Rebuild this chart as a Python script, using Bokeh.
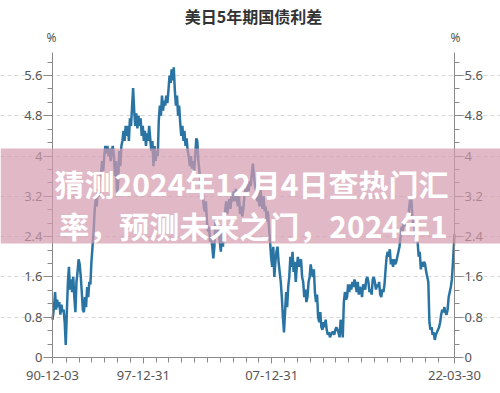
import pandas as pd
from bokeh.plotting import figure
from bokeh.models import (LinearAxis, FixedTicker, DatetimeTickFormatter, Range1d, Label,
                          BoxAnnotation, ColumnDataSource, CustomJSTickFormatter)
from bokeh.embed import file_html
from bokeh.resources import INLINE

# ---------------- data ----------------
title_text = "美日5年期国债利差"
unit_text = "%"
overlay_lines = ["猜测2024年12月4日查热门汇", "率，预测未来之门，2024年1"]
start_date = "1990-12-03"
end_date = "2022-03-30"
x_label_dates = ["1990-12-03", "1997-12-31", "2007-12-31", "2022-03-30"]
y_ticks = [0, 0.8, 1.6, 2.4, 3.2, 4, 4.8, 5.6]
y_axis_top = 6.056

# monthly readings (%), 1990-12 .. 1999-12
spread_1990s = [0.75,
    1.0, 1.3, 0.95, 1.15, 1.0, 1.1, 0.85, 1.05, 0.9, 0.95, 0.7, 0.25,
    0.9, 1.5, 1.8, 1.35, 1.55, 1.3, 1.6, 1.2, 0.9, 1.5, 1.7, 1.95,
    1.85, 1.6, 1.3, 0.95, 0.9, 1.2, 1.0, 1.4, 1.2, 1.5, 1.45, 1.9,
    2.2, 2.5, 2.9, 3.15, 3.0, 3.35, 3.2, 3.5, 3.65, 3.9, 3.7, 4.0,
    4.2, 4.05, 4.2, 4.0, 4.15, 3.9, 4.1, 4.2, 4.0, 3.6, 3.9, 3.2,
    3.5, 4.1, 3.8, 4.2, 4.3, 4.5, 4.3, 4.6, 4.4, 4.6, 4.3, 4.75,
    4.6, 5.0, 5.35, 4.9, 4.6, 4.85, 4.55, 4.8, 4.6, 4.75, 4.4, 4.6,
    4.3, 4.5, 4.2, 4.45, 4.3, 4.6, 4.35, 4.1, 4.3, 3.8, 4.2, 3.9,
    4.1, 4.0, 4.7, 5.0, 4.8, 5.2, 4.9, 5.1, 5.0, 5.2, 5.05, 5.3]
# 2000-01 .. 2009-12
spread_2000s = [
    5.6, 5.45, 5.72, 5.5, 5.76, 5.3, 5.0, 5.2, 4.8, 5.0, 4.65, 4.4,
    4.6, 4.3, 4.5, 4.2, 4.35, 4.1, 4.0, 3.8, 4.0, 3.75, 3.9, 3.7,
    4.0, 4.35, 4.3, 3.9, 3.7, 3.5, 3.2, 3.35, 3.0, 2.9, 3.1, 2.7,
    2.5, 2.6, 2.3, 2.4, 2.2, 1.97, 2.2, 2.8, 2.4, 2.7, 2.5, 2.3,
    2.1, 2.5, 2.2, 2.6, 2.9, 3.1, 2.85, 3.0, 3.15, 2.95, 3.2, 3.1,
    3.3, 3.1, 3.35, 3.15, 3.0, 3.2, 2.85, 3.0, 2.8, 2.95, 3.2, 3.35,
    3.25, 3.45, 3.3, 3.5, 3.4, 3.65, 3.85, 3.6, 3.4, 3.3, 3.1, 3.3,
    3.0, 3.35, 3.1, 2.95, 3.2, 2.9, 3.0, 2.7, 2.9, 2.6, 2.3, 2.0,
    1.8, 2.2, 1.6, 1.9, 2.1, 2.2, 1.9, 1.7, 1.5, 1.2, 0.8, 0.5,
    0.9, 1.3, 1.0, 1.4, 1.6, 2.0, 1.8, 2.1, 1.7, 1.9, 1.5, 1.8]
# 2010-01 .. 2019-12
spread_2010s = [
    2.0, 1.8, 1.9, 1.95, 1.6, 1.5, 1.2, 1.35, 1.1, 1.2, 1.5, 1.6,
    1.85, 1.7, 1.6, 1.75, 1.3, 1.1, 1.25, 0.8, 0.7, 0.9, 0.6, 0.55,
    0.7, 0.6, 0.75, 0.55, 0.45, 0.5, 0.4, 0.45, 0.5, 0.5, 0.45, 0.55,
    0.6, 0.55, 0.5, 0.4, 0.75, 0.6, 0.4, 1.1, 1.3, 1.15, 1.2, 1.45,
    1.3, 1.45, 1.35, 1.5, 1.4, 1.55, 1.45, 1.3, 1.5, 1.25, 1.4, 1.35,
    1.2, 1.45, 1.4, 1.35, 1.55, 1.6, 1.5, 1.3, 1.35, 1.25, 1.55, 1.6,
    1.5, 1.35, 1.45, 1.4, 1.5, 1.25, 1.2, 1.35, 1.3, 1.45, 1.75, 2.0,
    2.1, 2.0, 2.15, 1.85, 1.95, 1.8, 1.95, 1.85, 1.9, 2.0, 2.1, 2.2,
    2.4, 2.6, 2.5, 2.7, 2.6, 2.75, 2.8, 2.75, 2.95, 3.15, 3.2, 2.8,
    2.65, 2.6, 2.4, 2.5, 2.3, 2.0, 2.1, 1.75, 1.9, 1.8, 1.9, 1.85]
# 2020-01 .. 2022-03
spread_2020s = [
    1.7, 1.6, 1.5, 0.7, 0.55, 0.6, 0.45, 0.5, 0.35, 0.45, 0.5, 0.55,
    0.6, 0.7, 0.85, 0.95, 0.9, 1.0, 0.9, 0.85, 0.95, 1.2, 1.3, 1.4,
    1.55, 1.9, 2.45]

values = spread_1990s + spread_2000s + spread_2010s + spread_2020s
dates = list(pd.date_range("1990-12-01", "2022-03-01", freq="MS") + pd.Timedelta(days=14))
dates[0] = pd.Timestamp(start_date)
dates[-1] = pd.Timestamp(end_date)
src = ColumnDataSource(dict(date=dates, spread=values))

# ---------------- figure ----------------
W, H = 500, 393
# plot area inside the canvas: x 52..454, y 52..357 (pixels)
PL, PR, PT, PB = 52, 454, 52, 357
start_ms = pd.Timestamp(start_date).value / 1e6
end_ms = pd.Timestamp(end_date).value / 1e6
ms_per_px = (end_ms - start_ms) / (PR - PL)
val_per_px = y_axis_top / (PB - PT)

p = figure(width=W, height=H, x_axis_type="datetime", output_backend="svg",
           toolbar_location=None,
           x_range=Range1d(start_ms - PL * ms_per_px, end_ms + (W - PR) * ms_per_px),
           y_range=Range1d(-(H - PB) * val_per_px, PB * val_per_px),
           min_border=0, min_border_left=0, min_border_right=0,
           min_border_top=0, min_border_bottom=0)
p.outline_line_color = None
p.background_fill_color = "white"
p.border_fill_color = "white"

p.line(x="date", y="spread", source=src, line_color="#2a74a4", line_width=2.5)

axis_color = "#8a8a8a"
label_color = "#555555"
tick_font = "Noto Sans"

y_minor = [i * 0.8 / 3 for i in range(0, 23)]
yfmt = CustomJSTickFormatter(code="return (Math.round(tick*10)/10).toString();")

right_axis = LinearAxis()
p.add_layout(right_axis, "right")
p.yaxis[0].fixed_location = start_ms
right_axis.fixed_location = end_ms
for ax in [p.yaxis[0], right_axis]:
    ax.bounds = (0, y_axis_top)
    ax.ticker = FixedTicker(ticks=y_ticks, minor_ticks=y_minor)
    ax.formatter = yfmt
    ax.major_tick_in = 0
    ax.major_tick_out = 9
    ax.minor_tick_in = 0
    ax.minor_tick_out = 5
    ax.major_label_standoff = 1
    ax.axis_line_color = axis_color
    ax.major_tick_line_color = axis_color
    ax.minor_tick_line_color = axis_color
    ax.major_label_text_color = label_color
    ax.major_label_text_font = tick_font
    ax.major_label_text_font_size = "13px"

xt = [pd.Timestamp(d).value // 10**6 for d in x_label_dates]
x_minor = [pd.Timestamp(f"{y}-12-31").value // 10**6 for y in range(1991, 2021)]
xa = p.xaxis[0]
xa.fixed_location = 0
xa.bounds = (start_ms, end_ms)
xa.ticker = FixedTicker(ticks=xt, minor_ticks=x_minor)
fmt = "%y-%m-%d"
xa.formatter = DatetimeTickFormatter(milliseconds=fmt, seconds=fmt, minsec=fmt, minutes=fmt,
                                     hourmin=fmt, hours=fmt, days=fmt, months=fmt, years=fmt)
xa.major_tick_in = 0
xa.major_tick_out = 6
xa.minor_tick_in = 0
xa.minor_tick_out = 5
xa.major_label_standoff = 7
xa.axis_line_color = axis_color
xa.major_tick_line_color = axis_color
xa.minor_tick_line_color = axis_color
xa.major_label_text_color = label_color
xa.major_label_text_font = tick_font
xa.major_label_text_font_size = "13px"

p.xgrid.visible = False
p.ygrid.ticker = FixedTicker(ticks=y_ticks[1:])
p.ygrid.bounds = (start_ms, end_ms)
p.ygrid.grid_line_color = "#d8d8d8"
p.ygrid.grid_line_dash = "4 3"
p.ygrid.grid_line_width = 1

# title and unit marks (canvas units, measured from top-left)
p.add_layout(Label(x=253, y=15, x_units="canvas", y_units="canvas", text=title_text,
                   text_align="center", text_baseline="middle", text_font="Noto Sans CJK SC",
                   text_font_style="bold", text_font_size="16px", text_color="#333333"))
for ux in (51, 455):
    p.add_layout(Label(x=ux, y=37, x_units="canvas", y_units="canvas", text=unit_text,
                       text_align="center", text_baseline="middle", text_font=tick_font,
                       text_font_size="12px", text_color=label_color))

# pink overlay band with white text
p.add_layout(BoxAnnotation(top=148, bottom=243, top_units="canvas", bottom_units="canvas",
                           fill_color="#d49bae", fill_alpha=0.7, line_color=None))
for (lx, ly), txt in zip([(251, 182), (253, 224)], overlay_lines):
    p.add_layout(Label(x=lx, y=ly, x_units="canvas", y_units="canvas", text=txt,
                       text_align="center", text_baseline="middle", text_font="Noto Sans CJK SC",
                       text_font_style="bold", text_font_size="30px", text_color="white"))

open("out.html", "w").write(file_html(p, INLINE))
